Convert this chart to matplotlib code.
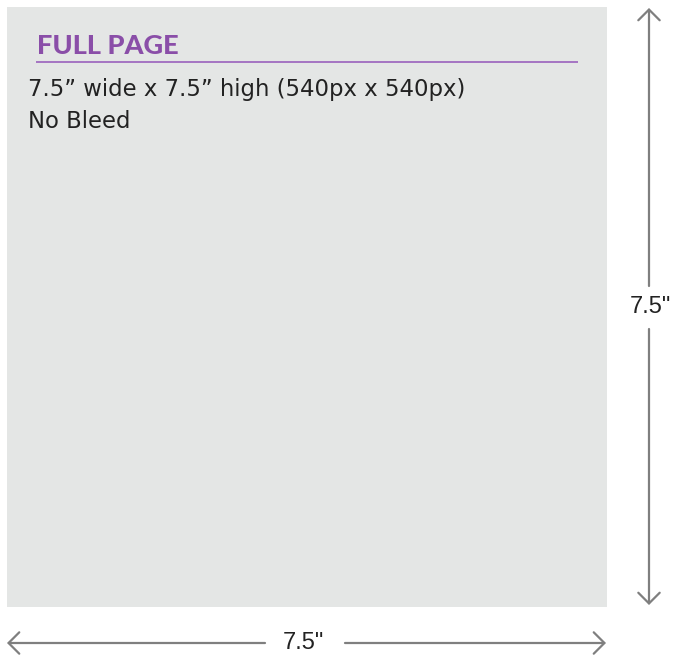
import matplotlib
matplotlib.use("Agg")

import matplotlib.pyplot as plt
from matplotlib.patches import Rectangle

# Page spec content
title = "FULL PAGE"
spec_lines = ["7.5\u201d wide x 7.5\u201d high (540px x 540px)", "No Bleed"]
dim_width_label = '7.5"'
dim_height_label = '7.5"'

W, H = 675, 656
PAGE_BG = "#e4e6e5"
PURPLE = "#8a4ea8"
RULE = "#a06cc0"
ARROW = "#7f7f7f"

fig = plt.figure(figsize=(W / 100, H / 100), dpi=100)
ax = fig.add_axes([0, 0, 1, 1])
ax.set_xlim(0, W)
ax.set_ylim(H, 0)
ax.axis("off")

# page area
ax.add_patch(Rectangle((7, 7), 600, 600, facecolor=PAGE_BG, edgecolor="none"))

# heading + rule
ax.text(37, 54, title, fontsize=19.5, fontweight=900, color=PURPLE,
        family=["Lato", "DejaVu Sans"], va="baseline", ha="left")
ax.plot([36, 578], [62, 62], color=RULE, lw=1.3, solid_capstyle="butt")

# spec lines
for i, line in enumerate(spec_lines):
    ax.text(28, 96 + i * 32.5, line, fontsize=16.4, color="#222222",
            family=["DejaVu Sans"], va="baseline", ha="left")

arrow_kw = dict(arrowstyle="->,head_length=0.55,head_width=0.55",
                color=ARROW, lw=1.6, shrinkA=0, shrinkB=0, mutation_scale=14)

# vertical dimension
vx, vlab = 649, 307
ax.annotate("", xy=(vx, 8), xytext=(vx, 286), arrowprops=arrow_kw)
ax.annotate("", xy=(vx, 605), xytext=(vx, 329), arrowprops=arrow_kw)
ax.text(vx + 1, vlab, dim_height_label, fontsize=17, color="#222222",
        family=["Liberation Sans", "DejaVu Sans"], ha="center", va="center")

# horizontal dimension
hy, hlab = 643, 303
ax.annotate("", xy=(7, hy), xytext=(265, hy), arrowprops=arrow_kw)
ax.annotate("", xy=(606, hy), xytext=(345, hy), arrowprops=arrow_kw)
ax.text(hlab, hy, dim_width_label, fontsize=17, color="#222222",
        family=["Liberation Sans", "DejaVu Sans"], ha="center", va="center")

fig.savefig("out.png", dpi=100, facecolor="white")
